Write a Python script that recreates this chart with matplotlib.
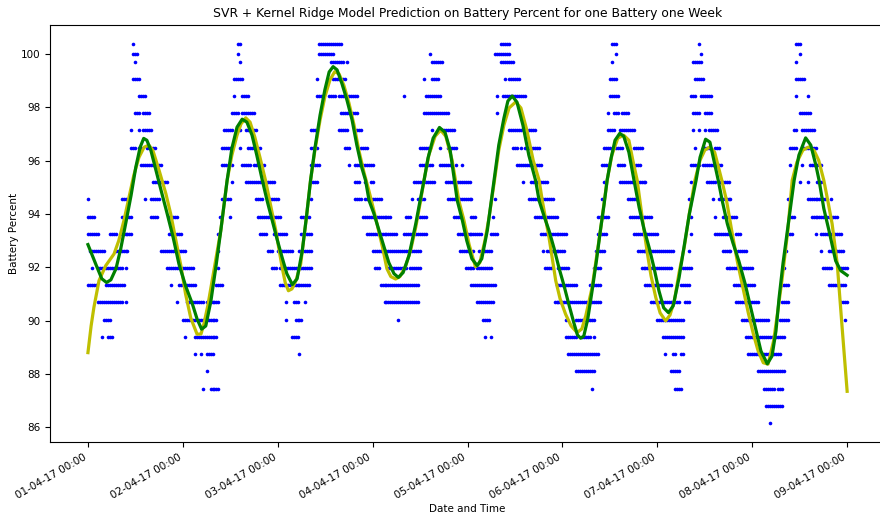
import datetime as dt
import numpy as np
import matplotlib
matplotlib.use('Agg')
import matplotlib.pyplot as plt
import matplotlib.dates as mdates

# battery readings: quantised percent levels and, per level, runs of hours (from 01-04-17 00:00)
levels = [100.37, 99.99, 99.71, 99.06, 98.42, 97.77, 97.13, 96.48, 95.84, 95.19, 94.55, 93.90,
          93.26, 92.61, 91.97, 91.32, 90.68, 90.03, 89.39, 88.74, 88.10, 87.45, 86.81, 86.16]
level_runs = [
    [(11.5, 11.5), (38, 38.5), (58.5, 64), (104.5, 106.5), (132.5, 133.5), (154.5, 154.5), (179, 180)],
    [(11.5, 12.5), (38, 38), (58.5, 62), (86.5, 86.5), (103, 106.5), (133.5, 133.5), (155, 155), (180, 180)],
    [(12, 12), (38.5, 38.5), (61.5, 64.5), (65.5, 65.5), (87, 89.5), (104.5, 107.5), (132.5, 132.5), (153, 155), (179, 179)],
    [(11.5, 13), (37, 39), (58, 58), (62, 65), (85, 85), (87, 88.5), (105.5, 105.5), (106.5, 109), (132, 133.5),
     (153.5, 155.5), (179, 181)],
    [(13, 14.5), (37, 37), (39, 40.5), (58, 59.5), (61, 62.5), (63.5, 68), (80, 80), (85.5, 89), (103.5, 103.5),
     (105, 110.5), (132, 134), (152.5, 153.5), (155, 157.5), (179, 179), (182, 182)],
    [(12, 13), (14, 15.5), (36.5, 38), (39, 42), (64, 68), (85, 91), (103.5, 103.5), (131.5, 131.5), (133, 134),
     (135, 136.5), (153, 154.5), (156, 157.5), (180, 182.5)],
    [(11, 11), (13, 13), (14, 16), (34.5, 36.5), (38.5, 38.5), (40, 42.5), (56.5, 58), (63.5, 65.5), (67.5, 69),
     (87, 87), (89, 92.5), (106.5, 109.5), (111.5, 113), (131.5, 133), (134.5, 138), (153, 153), (154.5, 154.5),
     (156, 156), (157, 159), (178.5, 179), (180.5, 183.5)],
    [(11, 12), (13, 13.5), (15, 17), (34, 36), (38.5, 38.5), (40.5, 43.5), (56.5, 58), (65, 66), (69, 70.5),
     (84, 86.5), (89, 89), (91, 93), (107.5, 108.5), (109.5, 109.5), (110.5, 114), (130.5, 132), (133.5, 135),
     (136.5, 136.5), (138, 140), (153.5, 153.5), (155.5, 157), (158.5, 159.5), (177.5, 179), (181, 184)],
    [(13.5, 14.5), (15, 16.5), (18, 18.5), (34, 35), (36.5, 36.5), (39, 41), (42, 44.5), (56.5, 58.5), (66, 66),
     (67.5, 72), (84, 87), (89, 91.5), (93, 93), (94.5, 94.5), (108.5, 114.5), (130, 131.5), (134, 135.5),
     (138.5, 139.5), (152.5, 154.5), (155.5, 157), (157.5, 160), (177.5, 177.5), (180.5, 180.5), (182.5, 185.5)],
    [(16.5, 20), (36.5, 36.5), (40, 47), (56.5, 58), (67.5, 68.5), (70, 70), (71.5, 72), (82.5, 87.5), (90.5, 96.5),
     (110, 110), (112, 116), (130.5, 130.5), (134.5, 141), (152.5, 152.5), (156.5, 158.5), (159.5, 162),
     (180, 180), (182, 182), (184.5, 185.5)],
    [(0, 0), (8.5, 9.5), (14.5, 14.5), (16, 18), (34, 36), (42.5, 44), (45.5, 48), (56.5, 56.5), (67.5, 69),
     (70, 74), (82, 82), (83.5, 85), (91, 97), (103, 103), (111.5, 117.5), (130, 130), (136.5, 139), (152, 152),
     (158, 158), (159.5, 162.5), (177, 177), (182, 186.5), (188, 188)],
    [(0, 1.5), (8.5, 11), (16, 17.5), (20.5, 22.5), (33.5, 33.5), (36, 36), (43, 48.5), (54, 56), (69.5, 76.5),
     (80.5, 81.5), (83.5, 85.5), (92.5, 94.5), (97, 98), (102.5, 102.5), (113, 118.5), (129, 131.5), (137, 142.5),
     (152.5, 152.5), (158.5, 158.5), (160.5, 164), (177.5, 178.5), (183, 184.5), (185, 185), (185.5, 189.5)],
    [(0, 2.5), (5.5, 7), (8.5, 11), (20.5, 23.5), (33, 33), (43.5, 45), (47, 50), (54, 56.5), (70.5, 78),
     (80, 85.5), (93.5, 99.5), (102, 103.5), (114.5, 121), (129, 131), (138, 144), (152.5, 152.5), (158.5, 162),
     (164, 165), (177, 178), (184, 184), (185.5, 190.5)],
    [(0.5, 4), (7, 10), (18.5, 24.5), (33, 33), (45.5, 46.5), (48, 51.5), (53.5, 56.5), (72, 78), (78.5, 84),
     (94, 97.5), (99, 102), (115, 115), (116, 120.5), (128.5, 130.5), (139, 148), (152, 152), (160.5, 162.5),
     (164.5, 166.5), (176.5, 176.5), (185.5, 185.5), (187.5, 191)],
    [(1, 1), (2.5, 8.5), (9.5, 9.5), (20, 26.5), (33, 33), (46.5, 47.5), (48.5, 53.5), (54, 56.5), (72.5, 73.5),
     (76, 80.5), (81.5, 84), (95.5, 97.5), (98.5, 100), (100.5, 102), (115.5, 117), (119, 121.5), (128, 129.5),
     (140, 147.5), (150.5, 152.5), (161.5, 168), (176, 176), (186, 188), (190.5, 192)],
    [(0, 2), (4.5, 9), (21, 21), (23, 27), (32.5, 34), (48.5, 56), (74, 83.5), (97, 103), (118.5, 123.5),
     (127, 129.5), (141, 147.5), (150, 152), (163.5, 168.5), (175.5, 177), (187.5, 191.5)],
    [(2.5, 8.5), (9.5, 9.5), (22.5, 22.5), (25, 29), (30, 33), (50, 50), (52, 53), (55, 55), (75, 80.5),
     (81, 83.5), (98.5, 99.5), (100, 102), (102.5, 102.5), (118, 129.5), (142.5, 149.5), (151, 152),
     (164, 169.5), (175.5, 177), (190.5, 192)],
    [(4, 5.5), (24, 27), (28, 32.5), (50, 50), (52.5, 54), (78.5, 78.5), (100, 101.5), (121, 121), (123.5, 128),
     (144, 150.5), (165.5, 172), (175, 177), (191.5, 191.5)],
    [(3.5, 3.5), (5, 6), (24.5, 24.5), (27, 32.5), (51.5, 53), (100.5, 100.5), (102, 102), (121, 123.5),
     (125, 127), (128, 128), (145.5, 150.5), (166.5, 176)],
    [(27, 27), (28.5, 28.5), (30, 31.5), (53.5, 53.5), (121.5, 129), (146, 146), (148, 148.5), (150, 150.5),
     (167, 175)],
    [(30, 30), (123.5, 128), (147.5, 149.5), (169.5, 176)],
    [(29, 29), (31, 33), (127.5, 127.5), (148.5, 150), (171, 173.5), (174.5, 175.5)],
    [(171.5, 175.5)],
    [(172.5, 172.5)],
]

# SVR prediction (hours, percent)
svr_hours = [0, 0.8, 1.5, 2.8, 4.5, 6.6, 7.8, 9.1, 10.4, 11.6, 12.9, 14.2, 15.4, 16.4, 18, 19.7, 20.9, 22.6,
             23.5, 24.7, 26, 27.6, 28.6, 29.3, 30.3, 31.4, 32.5, 33.6, 35.2, 36.4, 37.7, 38.7, 39.9, 41, 42.2,
             43.5, 44.9, 46.2, 47.5, 48.3, 49.1, 49.9, 50.7, 51.6, 52.6, 53.8, 55.1, 56.3, 57.4, 58.7, 59.9,
             61.2, 62.4, 63.5, 64.7, 66, 67.3, 68.5, 69.8, 71, 72.3, 74.5, 75.6, 76.6, 77.8, 78.9, 80.4, 81.7,
             82.9, 84, 85, 86.2, 87.8, 89.2, 90.5, 92.1, 93.8, 95.1, 96.4, 98, 99.1, 100.4, 101.4, 102.7, 103.9,
             105.2, 106.5, 108.2, 109.5, 111, 112.6, 114.1, 114.9, 116.6, 118.3, 119.4, 120.8, 122.2, 123.7,
             124.9, 125.9, 127.5, 129.6, 131.3, 132.5, 134, 135.5, 136.8, 137.8, 138.9, 140.1, 141.5, 142.4,
             143.6, 144.7, 146.1, 147.2, 148.3, 149.5, 150.8, 152.1, 153.5, 154.8, 156, 157.3, 158.5, 160.3,
             161.5, 162.8, 164.2, 165.8, 167, 168.3, 169.5, 170.8, 172, 173.4, 174.4, 175.5, 177, 178.1, 179.3,
             180.8, 182.3, 183.6, 184.8, 186.1, 187.1, 188.2, 189.5, 190.8, 192]
svr_values = [88.8, 89.8, 90.49, 91.5, 92.06, 92.5, 93.0, 93.75, 94.63, 95.45, 96.12, 96.5, 96.58, 96.39,
              95.63, 94.76, 94.02, 92.75, 92.06, 90.99, 90.1, 89.49, 89.5, 89.86, 90.55, 91.5, 92.44, 93.38,
              95.26, 96.2, 96.95, 97.37, 97.6, 97.44, 96.88, 96.12, 95.26, 94.32, 93.38, 92.7, 92.0, 91.42,
              91.12, 91.19, 91.5, 92.12, 93.68, 95.26, 96.39, 97.52, 98.38, 99.02, 99.33, 99.25, 98.83, 98.16,
              97.33, 96.39, 95.56, 94.9, 94.13, 92.75, 91.95, 91.65, 91.56, 91.65, 92.06, 92.7, 93.5, 94.39,
              95.26, 96.2, 96.91, 97.14, 96.91, 96.01, 94.5, 93.75, 92.85, 92.02, 92.17, 93.0, 93.83, 95.14,
              96.39, 97.33, 97.97, 98.2, 97.97, 97.14, 96.01, 95.26, 94.5, 93.12, 91.5, 90.82, 90.24, 89.8,
              89.55, 89.69, 90.18, 91.24, 93.38, 95.26, 96.2, 96.84, 96.95, 96.76, 96.01, 95.26, 93.94, 92.5,
              91.68, 90.87, 90.29, 89.99, 90.21, 90.74, 91.8, 92.75, 94.02, 95.26, 96.01, 96.39, 96.51, 96.31,
              95.26, 94.5, 93.38, 92.24, 91.12, 90.29, 89.49, 88.86, 88.42, 88.37, 89.24, 90.29, 91.5, 93.38,
              95.26, 95.94, 96.39, 96.51, 96.39, 96.01, 95.26, 94.5, 93.63, 92.12, 89.61, 87.35]

# Kernel Ridge prediction (hours, percent)
krr_hours = [0, 2.3, 3.5, 4.7, 5.8, 7.1, 8.3, 9.6, 10.9, 12.1, 13.2, 14.1, 14.9, 15.9, 17.2, 18.5, 20.05,
             21.5, 23, 24.7, 26.4, 27.6, 28.75, 29.8, 31.1, 32.4, 33.6, 35.2, 36.4, 37.7, 39, 40.2, 41.5, 42.7,
             44.1, 45.3, 46.6, 47.8, 49.1, 50.3, 51.7, 52.9, 54.2, 55.3, 56.3, 57.4, 58.7, 59.9, 61, 62, 63,
             64.2, 65.5, 66.8, 68, 69.3, 70.2, 71.1, 72.3, 74.4, 76.1, 77.4, 78.5, 79.7, 81.2, 82.9, 84, 85, 86,
             87.3, 88.9, 90.3, 91.6, 93.4, 94.7, 95.8, 97.1, 98.45, 99.6, 101, 102.7, 103.9, 105.2, 106.2, 107.3,
             108.5, 110, 111.5, 113.2, 114.1, 115.3, 116.6, 117.9, 119.1, 120.4, 121.6, 122.9, 123.8, 124.6,
             125.4, 126.4, 127.5, 128.6, 129.6, 130.5, 131.3, 132.3, 133.3, 134.5, 135.5, 136.8, 138.1, 139.4,
             140.6, 141.9, 143.1, 144.4, 145.6, 146.8, 148, 149.5, 150.8, 152.1, 153.8, 154.8, 156.2, 157.3,
             158.3, 159.4, 160.4, 161.7, 163.1, 164.6, 166.2, 167.6, 169, 170.2, 171.8, 173, 174, 174.8, 175.8,
             176.9, 178.6, 179.8, 181.5, 182.8, 184.1, 184.9, 186.1, 187.4, 189.1, 190.4, 192]
krr_values = [92.85, 92.0, 91.57, 91.43, 91.53, 91.95, 92.7, 93.68, 94.69, 95.75, 96.5, 96.83, 96.76, 96.39,
              95.63, 94.88, 94.0, 93.15, 92.13, 91.3, 90.63, 90.06, 89.68, 89.8, 90.74, 92.06, 93.38, 95.26,
              96.46, 97.25, 97.55, 97.44, 96.95, 96.2, 95.26, 94.5, 93.75, 93.07, 92.37, 91.76, 91.35, 91.57,
              92.62, 93.94, 95.26, 96.46, 97.7, 98.64, 99.32, 99.52, 99.4, 98.9, 98.27, 97.52, 96.58, 95.71,
              95.26, 94.5, 94.02, 93.0, 92.17, 91.76, 91.62, 91.8, 92.44, 93.63, 94.5, 95.26, 96.09, 96.84,
              97.24, 97.06, 96.39, 94.5, 93.75, 93.0, 92.32, 92.06, 92.32, 93.38, 95.26, 96.58, 97.59, 98.23,
              98.42, 98.19, 97.33, 96.2, 95.26, 94.5, 93.94, 93.38, 92.7, 91.99, 91.31, 90.62, 89.91, 89.46,
              89.34, 89.42, 90.06, 91.12, 92.25, 93.38, 94.32, 95.26, 96.09, 96.76, 97.02, 96.91, 96.31, 95.26,
              94.24, 93.45, 92.75, 92.02, 91.12, 90.48, 90.3, 90.55, 91.62, 92.81, 94.0, 95.26, 96.12, 96.8,
              96.69, 96.01, 95.26, 94.5, 93.63, 92.92, 92.24, 91.38, 90.49, 89.61, 88.86, 88.38, 88.67, 89.61,
              90.87, 92.17, 93.38, 95.26, 96.2, 96.85, 96.58, 95.82, 95.26, 94.2, 93.38, 92.24, 91.87, 91.7]

start = dt.datetime(2017, 4, 1)


def to_dates(hours):
    return [start + dt.timedelta(hours=float(h)) for h in hours]


obs_hours, obs_values = [], []
for lvl, runs in zip(levels, level_runs):
    for a, b in runs:
        hrs = np.arange(a, b + 0.01, 0.5)
        obs_hours.extend(hrs)
        obs_values.extend([lvl] * len(hrs))

fig = plt.figure(figsize=(8.8, 5.18), dpi=100)
ax = fig.add_axes([0.0568, 0.1467, 0.949, 0.805])

ax.plot(to_dates(obs_hours), obs_values, 'o', color='b', markersize=2.6, markeredgewidth=0)
ax.plot(to_dates(svr_hours), svr_values, color='y', linewidth=2.3)
ax.plot(to_dates(krr_hours), krr_values, color='g', linewidth=2.3)

ax.xaxis.set_major_locator(mdates.DayLocator())
ax.xaxis.set_major_formatter(mdates.DateFormatter('%d-%m-%y %H:%M'))
for lbl in ax.get_xticklabels():
    lbl.set_rotation(30)
    lbl.set_horizontalalignment('right')
ax.tick_params(labelsize=7.5)
ax.set_xlabel('Date and Time', fontsize=7.5, labelpad=3)
ax.set_ylabel('Battery Percent', fontsize=7.5, labelpad=1.5)
ax.set_title('SVR + Kernel Ridge Model Prediction on Battery Percent for one Battery one Week', fontsize=8.9)

fig.savefig('out.png', dpi=100)
